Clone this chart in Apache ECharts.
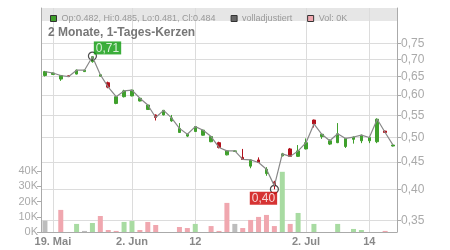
<!DOCTYPE html>
<html>
<head>
<meta charset="utf-8">
<script src="https://cdn.jsdelivr.net/npm/echarts@6/dist/echarts.min.js"></script>
<style>
html, body { margin: 0; padding: 0; background: #fff; }
#chart { width: 450px; height: 250px; }
</style>
</head>
<body>
<div id="chart"></div>
<script>
// Handelstage (2 Monate)
var dates = ['05-16', '05-19', '05-20', '05-21', '05-22', '05-23', '05-26', '05-27', '05-28', '05-29',
	'05-30', '06-02', '06-03', '06-04', '06-05', '06-06', '06-09', '06-10', '06-11', '06-12',
	'06-13', '06-16', '06-17', '06-18', '06-19', '06-20', '06-23', '06-24', '06-25', '06-26',
	'06-27', '06-30', '07-01', '07-02', '07-03', '07-04', '07-07', '07-08', '07-09', '07-10',
	'07-11', '07-14', '07-15', '07-16', '07-17'];

var opens = [0.653, 0.656, 0.643, 0.652, 0.657, 0.664, 0.693, 0.651, 0.633, 0.579,
	0.596, 0.598, 0.585, 0.564, 0.551, 0.551, 0.537, 0.511, 0.503, 0.513,
	0.505, 0.491, 0.489, 0.464, 0.471, 0.459, 0.442, 0.454, 0.428, 0.413,
	0.462, 0.476, 0.461, 0.476, 0.539, 0.502, 0.486, 0.489, 0.481, 0.496,
	0.493, 0.493, 0.491, 0.514, 0.482];
var closes = [0.664, 0.660, 0.653, 0.650, 0.668, 0.668, 0.708, 0.655, 0.621, 0.596,
	0.611, 0.613, 0.592, 0.575, 0.545, 0.562, 0.544, 0.520, 0.507, 0.524,
	0.516, 0.502, 0.479, 0.472, 0.472, 0.455, 0.454, 0.449, 0.436, 0.406,
	0.466, 0.461, 0.472, 0.489, 0.530, 0.507, 0.493, 0.508, 0.498, 0.501,
	0.505, 0.500, 0.541, 0.511, 0.484];
var lows = [0.650, 0.655, 0.638, 0.649, 0.656, 0.663, 0.690, 0.650, 0.618, 0.577,
	0.594, 0.597, 0.584, 0.563, 0.538, 0.550, 0.535, 0.510, 0.501, 0.512,
	0.504, 0.490, 0.477, 0.463, 0.470, 0.455, 0.438, 0.448, 0.424, 0.400,
	0.461, 0.460, 0.460, 0.475, 0.522, 0.497, 0.484, 0.488, 0.478, 0.487,
	0.488, 0.488, 0.488, 0.510, 0.481];
var highs = [0.666, 0.661, 0.654, 0.653, 0.670, 0.669, 0.710, 0.656, 0.636, 0.597,
	0.614, 0.614, 0.593, 0.576, 0.552, 0.563, 0.551, 0.532, 0.508, 0.525,
	0.517, 0.503, 0.491, 0.473, 0.473, 0.476, 0.455, 0.459, 0.440, 0.415,
	0.468, 0.478, 0.484, 0.498, 0.540, 0.508, 0.496, 0.532, 0.499, 0.502,
	0.506, 0.502, 0.543, 0.515, 0.485];
var volumes = [7400, 0, 14500, 0, 5300, 700, 5900, 10500, 1300, 700,
	6600, 7200, 1300, 6600, 4600, 0, 0, 3300, 2600, 5300,
	0, 3900, 700, 19100, 5300, 2600, 7900, 9900, 11200, 3900,
	39500, 5300, 12500, 0, 5300, 0, 0, 5300, 0, 2000,
	1300, 0, 0, 700, 0];

// Achsenbeschriftungen
var xTickDates = ['05-19', '06-02', '06-12', '07-02', '07-14'];
var xTickLabels = ['19. Mai', '2. Jun', '12', '2. Jul', '14'];
var priceTicks = [0.35, 0.40, 0.45, 0.50, 0.55, 0.60, 0.65, 0.70, 0.75];
var volTicks = [0, 10000, 20000, 30000, 40000];

var UP = '#3fa02c', DOWN = '#b2111c';

var candles = dates.map(function (d, i) {
	return [opens[i], closes[i], lows[i], highs[i]];
});

// Farbe der Volumenbalken: Schlusskurs gegen Vortag
var volData = volumes.map(function (v, i) {
	var c = '#bdbdbd';
	if (i > 0 && closes[i] > closes[i - 1]) c = '#a8dba2';
	if (i > 0 && closes[i] < closes[i - 1]) c = '#f0a7af';
	return { value: v, itemStyle: { color: c } };
});

// Hoch / Tief im Zeitraum
var hiIdx = 0, loIdx = 0;
for (var i = 1; i < dates.length; i++) {
	if (highs[i] > highs[hiIdx]) hiIdx = i;
	if (lows[i] < lows[loIdx]) loIdx = i;
}
var fmt = function (v) { return v.toFixed(2).replace('.', ','); };

var last = dates.length - 1;
var candleName = 'Op:' + opens[last].toFixed(3) + ', Hi:' + highs[last].toFixed(3) +
	', Lo:' + lows[last].toFixed(3) + ', Cl:' + closes[last].toFixed(3);
var volName = 'Vol: ' + Math.round(volumes[last] / 1000) + 'K';

var isTick = function (idx) { return xTickDates.indexOf(dates[idx]) >= 0; };

var myChart = echarts.init(document.getElementById('chart'), null, { renderer: 'canvas' });

var option = {
	animation: false,
	title: {
		text: '2 Monate, 1-Tages-Kerzen',
		left: 43,
		top: 22,
		textStyle: { color: '#777', fontSize: 12, fontWeight: 'bold', fontFamily: 'Liberation Sans' }
	},
	legend: {
		left: 45,
		top: 9,
		itemWidth: 6,
		itemHeight: 6,
		itemGap: 15,
		selectedMode: false,
		textStyle: { color: '#999', fontSize: 9, fontFamily: 'Liberation Sans' },
		data: [
			{ name: candleName, icon: 'rect', itemStyle: { color: '#3fa02c', borderColor: '#333', borderWidth: 1 } },
			{ name: 'volladjustiert', icon: 'rect', itemStyle: { color: '#666', borderColor: '#333', borderWidth: 1 } },
			{ name: volName, icon: 'rect', itemStyle: { color: '#f0a7af', borderColor: '#333', borderWidth: 1 } }
		]
	},
	graphic: [{
		type: 'rect',
		z: -10,
		shape: { x: 41, y: 8, width: 357, height: 13 },
		style: { fill: '#e6e6e6' }
	}],
	grid: { left: 41, right: 53, top: 8, bottom: 18 },
	xAxis: {
		type: 'category',
		data: dates,
		boundaryGap: true,
		axisLine: { lineStyle: { color: '#aaa' } },
		axisTick: { alignWithLabel: true, length: 3, interval: isTick, lineStyle: { color: '#aaa' } },
		axisLabel: {
			interval: isTick,
			margin: 4,
			color: '#888',
			fontSize: 11,
			fontWeight: 'bold',
			fontFamily: 'Liberation Sans',
			formatter: function (v) { return xTickLabels[xTickDates.indexOf(v)]; }
		},
		splitLine: { show: true, alignWithLabel: true, interval: isTick, lineStyle: { color: '#dcdcdc' } }
	},
	yAxis: [{
		type: 'value',
		position: 'left',
		min: 0,
		max: 147000,
		axisLine: { show: true, lineStyle: { color: '#aaa' } },
		axisTick: { show: true, length: 4, customValues: volTicks, lineStyle: { color: '#aaa' } },
		axisLabel: {
			customValues: volTicks,
			margin: 3,
			color: '#aaa',
			fontSize: 11,
			fontFamily: 'Liberation Sans',
			formatter: function (v) { return (v / 1000) + 'K'; }
		},
		splitLine: { show: false }
	}, {
		type: 'log',
		logBase: 10,
		position: 'right',
		min: 0.3329,
		max: 0.8731,
		axisLine: { show: true, lineStyle: { color: '#aaa' } },
		axisTick: { show: true, length: 4, customValues: priceTicks, lineStyle: { color: '#aaa' } },
		axisLabel: {
			customValues: priceTicks,
			margin: 4,
			color: '#aaa',
			fontSize: 12,
			fontFamily: 'Liberation Sans',
			formatter: fmt
		},
		splitLine: { show: true, lineStyle: { color: '#dcdcdc' } }
	}],
	series: [{
		name: volName,
		type: 'bar',
		yAxisIndex: 0,
		barWidth: 5,
		data: volData,
		itemStyle: { color: '#f0a7af' }
	}, {
		name: 'volladjustiert',
		type: 'line',
		yAxisIndex: 1,
		data: closes,
		symbol: 'none',
		lineStyle: { color: '#888', width: 1.2 },
		itemStyle: { color: '#666' }
	}, {
		name: candleName,
		type: 'candlestick',
		yAxisIndex: 1,
		barWidth: 3,
		data: candles,
		itemStyle: { color: UP, color0: DOWN, borderColor: UP, borderColor0: DOWN, borderWidth: 1 }
	}, {
		name: 'extrem',
		type: 'scatter',
		yAxisIndex: 1,
		symbol: 'circle',
		symbolSize: 8,
		itemStyle: { color: 'rgba(255,255,255,0)', borderColor: '#222', borderWidth: 1.2 },
		data: [{
			value: [hiIdx, highs[hiIdx]],
			label: {
				show: true, position: [6, -10], formatter: fmt(highs[hiIdx]),
				backgroundColor: '#0a9a0a', color: '#fff', padding: [1, 2, 0, 2],
				fontSize: 12, fontFamily: 'Liberation Sans'
			}
		}, {
			value: [loIdx, lows[loIdx]],
			label: {
				show: true, position: [-20, 7], formatter: fmt(lows[loIdx]),
				backgroundColor: '#cc0000', color: '#fff', padding: [1, 2, 0, 2],
				fontSize: 12, fontFamily: 'Liberation Sans'
			}
		}]
	}]
};
myChart.setOption(option);
</script>
</body>
</html>
